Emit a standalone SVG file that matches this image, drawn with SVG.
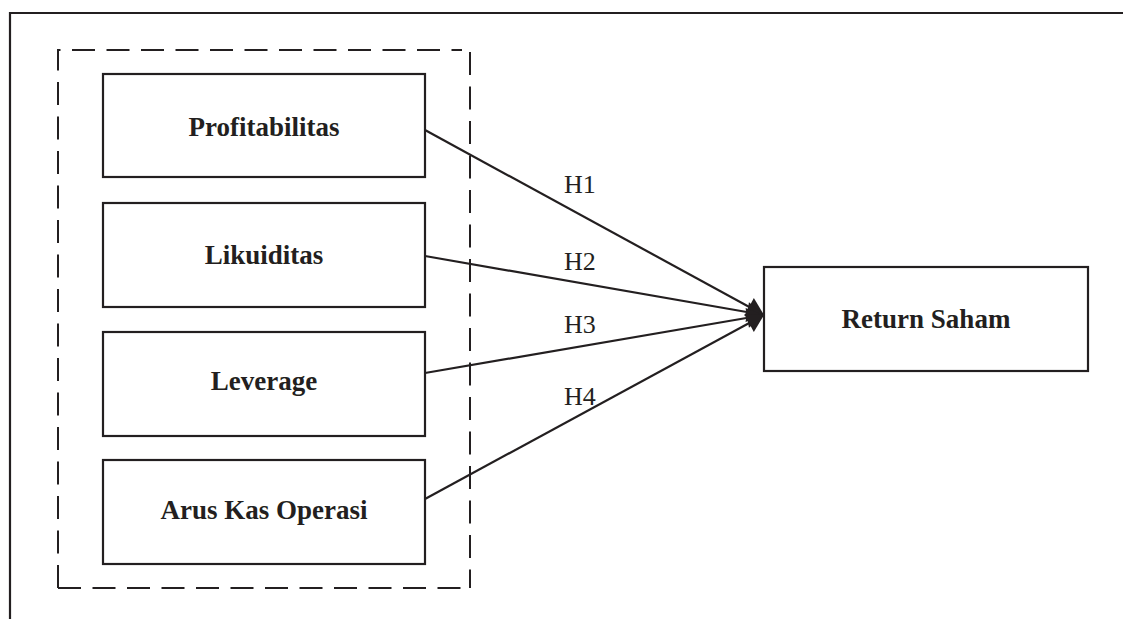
<svg xmlns="http://www.w3.org/2000/svg" width="1123" height="619" viewBox="0 0 1123 619">
  <style>
    .frame { fill: none; stroke: #231f20; stroke-width: 2.2; }
    .group { fill: none; stroke: #231f20; stroke-width: 2; stroke-dasharray: 23 11.5; }
    .box { fill: #ffffff; stroke: #231f20; stroke-width: 2.2; }
    .label { font-family: "Liberation Serif", "Times New Roman", serif; font-size: 27px; font-weight: bold; fill: #231f20; text-anchor: middle; }
    .edge { fill: none; stroke: #231f20; stroke-width: 2.2; marker-end: url(#head); }
    .hyp { font-family: "Liberation Serif", "Times New Roman", serif; font-size: 26px; fill: #231f20; }
  </style>
  <defs>
    <marker id="head" markerUnits="userSpaceOnUse" markerWidth="22" markerHeight="24" viewBox="-19 -12 20 24" refX="0" refY="0" orient="auto">
      <path d="M0,0 L-17,-10 L-17,10 Z" fill="#231f20"/>
    </marker>
  </defs>

  <rect width="1123" height="619" fill="#ffffff"/>

  <!-- outer frame (top and left edges) -->
  <path class="frame" d="M10,619 V13 H1123"/>

  <!-- dashed grouping of the independent variables -->
  <g id="independent-group">
    <path class="group" d="M58,588 V50 H462"/>
    <path class="group" d="M470,52 V588"/>
    <path class="group" d="M58,588 H470"/>
  </g>

  <!-- connectors -->
  <g id="connectors">
    <line class="edge" x1="425" y1="130" x2="764" y2="315"/>
    <line class="edge" x1="425" y1="256" x2="764" y2="315"/>
    <line class="edge" x1="425" y1="373" x2="764" y2="315"/>
    <line class="edge" x1="425" y1="499" x2="764" y2="315"/>
    <text class="hyp" x="564" y="193">H1</text>
    <text class="hyp" x="564" y="270">H2</text>
    <text class="hyp" x="564" y="333">H3</text>
    <text class="hyp" x="564" y="405">H4</text>
  </g>

  <g id="profitabilitas">
    <rect class="box" x="103" y="74" width="322" height="103"/>
    <text class="label" x="264" y="136">Profitabilitas</text>
  </g>
  <g id="likuiditas">
    <rect class="box" x="103" y="203" width="322" height="104"/>
    <text class="label" x="264" y="264">Likuiditas</text>
  </g>
  <g id="leverage">
    <rect class="box" x="103" y="332" width="322" height="104"/>
    <text class="label" x="264" y="390">Leverage</text>
  </g>
  <g id="arus-kas-operasi">
    <rect class="box" x="103" y="460" width="322" height="104"/>
    <text class="label" x="264" y="519">Arus Kas Operasi</text>
  </g>
  <g id="return-saham">
    <rect class="box" x="764" y="267" width="324" height="104"/>
    <text class="label" x="926" y="328">Return Saham</text>
  </g>
</svg>
